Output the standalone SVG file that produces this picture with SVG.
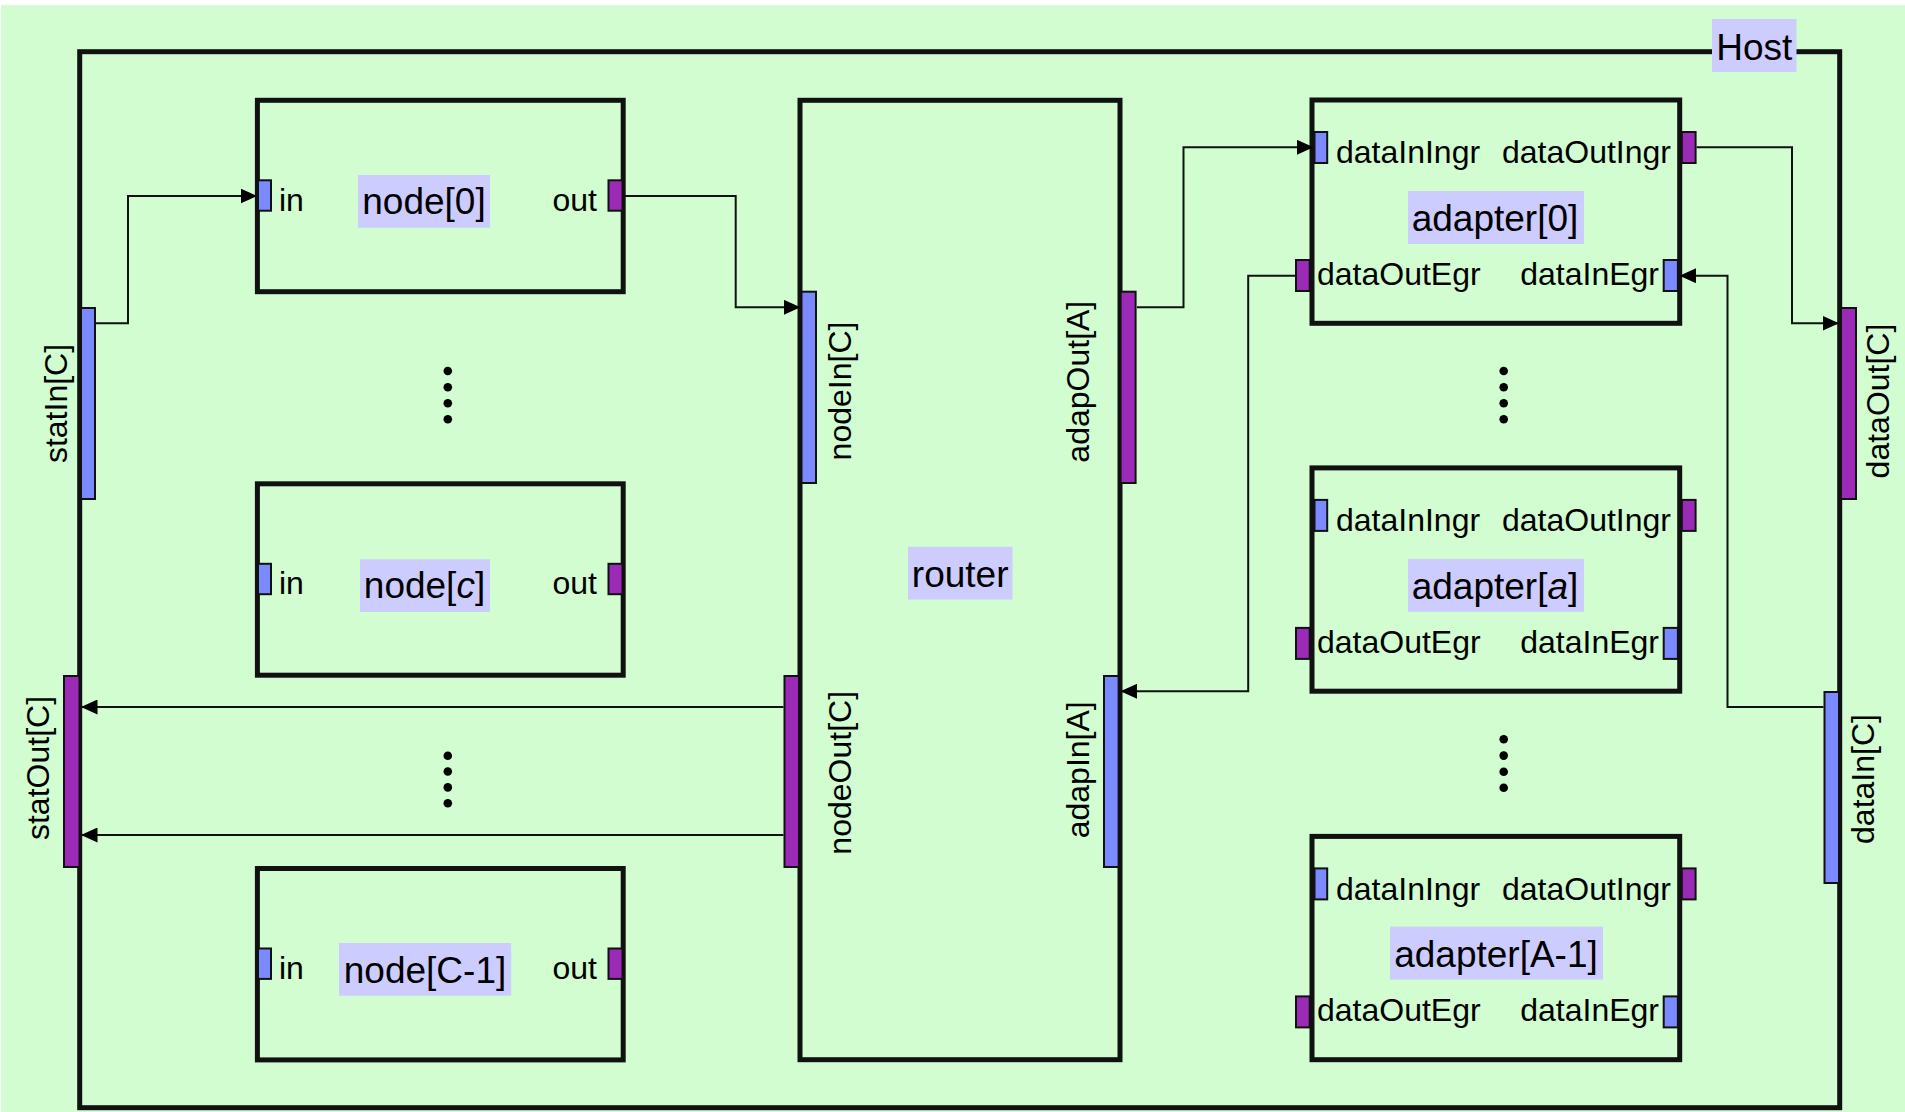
<svg xmlns="http://www.w3.org/2000/svg" width="1905" height="1112" viewBox="0 0 1905 1112">
<defs>
<style>
.frame{fill:none;stroke:#111;stroke-width:5}
.box{fill:none;stroke:#111;stroke-width:5}
.pin{fill:#7b8bff;stroke:#111;stroke-width:2}
.pout{fill:#9b2bb6;stroke:#111;stroke-width:2}
.lbg{fill:#ccccff}
.t{font-family:"Liberation Sans",Arial,sans-serif;fill:#000}
.pl{font-size:32px}
.ml{font-size:37px}
.c{text-anchor:middle}
.e{text-anchor:end}
.wire{fill:none;stroke:#111;stroke-width:2}
.dot{fill:#000}
</style>
<marker id="arr" markerUnits="userSpaceOnUse" markerWidth="17" markerHeight="15" refX="16.5" refY="7.5" orient="auto">
<path d="M0,0 L16.5,7.5 L0,15 z" fill="#000"/>
</marker>
</defs>
<rect x="1" y="5" width="1904" height="1107" fill="#d1fdd1"/>

<g id="host">
<rect class="frame" x="79.7" y="51.7" width="1760" height="1056"/>
<rect class="lbg" x="1712" y="19" width="84.5" height="53"/>
<text class="t ml c" x="1754.3" y="60">Host</text>
<rect class="pin" x="81" y="308" width="14" height="191"/>
<text class="t pl c" transform="translate(66.5,403.5) rotate(-90)">statIn[C]</text>
<rect class="pout" x="64" y="676" width="15.5" height="191"/>
<text class="t pl c" transform="translate(49,768) rotate(-90)">statOut[C]</text>
<rect class="pout" x="1841" y="308" width="15" height="191"/>
<text class="t pl c" transform="translate(1889,401) rotate(-90)">dataOut[C]</text>
<rect class="pin" x="1824.5" y="692" width="14.5" height="191"/>
<text class="t pl c" transform="translate(1873.5,779) rotate(-90)">dataIn[C]</text>
</g>

<g id="node0">
<rect class="box" x="257.4" y="100.3" width="365.8" height="191.4"/>
<rect class="pin" x="258" y="180.3" width="13" height="30.4"/>
<rect class="pout" x="608.5" y="180.3" width="14" height="30.4"/>
<text class="t pl" x="279" y="210.8">in</text>
<text class="t pl e" x="597" y="210.8">out</text>
<rect class="lbg" x="358" y="175" width="132" height="52.7"/>
<text class="t ml c" x="424" y="214.3">node[0]</text>
</g>

<g id="nodec">
<rect class="box" x="257.4" y="483.8" width="365.8" height="191.4"/>
<rect class="pin" x="258" y="563.8" width="13" height="30.4"/>
<rect class="pout" x="608.5" y="563.8" width="14" height="30.4"/>
<text class="t pl" x="279" y="594.3">in</text>
<text class="t pl e" x="597" y="594.3">out</text>
<rect class="lbg" x="360" y="559.3" width="130" height="52.7"/>
<text class="t ml c" x="424.5" y="597.8">node[<tspan font-style="italic">c</tspan>]</text>
</g>

<g id="nodeC1">
<rect class="box" x="257.4" y="868.5" width="365.8" height="191.4"/>
<rect class="pin" x="258" y="948.5" width="13" height="30.4"/>
<rect class="pout" x="608.5" y="948.5" width="14" height="30.4"/>
<text class="t pl" x="279" y="979">in</text>
<text class="t pl e" x="597" y="979">out</text>
<rect class="lbg" x="339" y="943" width="172.2" height="52.7"/>
<text class="t ml c" x="425" y="982.5">node[C-1]</text>
</g>

<g id="dots">
<circle class="dot" cx="447.8" cy="371" r="4.3"/>
<circle class="dot" cx="447.8" cy="387.2" r="4.3"/>
<circle class="dot" cx="447.8" cy="403.3" r="4.3"/>
<circle class="dot" cx="447.8" cy="419.3" r="4.3"/>
<circle class="dot" cx="447.8" cy="755.7" r="4.3"/>
<circle class="dot" cx="447.8" cy="771.5" r="4.3"/>
<circle class="dot" cx="447.8" cy="787.4" r="4.3"/>
<circle class="dot" cx="447.8" cy="803.3" r="4.3"/>
<circle class="dot" cx="1503.7" cy="371" r="4.3"/>
<circle class="dot" cx="1503.7" cy="387.2" r="4.3"/>
<circle class="dot" cx="1503.7" cy="403.3" r="4.3"/>
<circle class="dot" cx="1503.7" cy="419.3" r="4.3"/>
<circle class="dot" cx="1503.7" cy="739.3" r="4.3"/>
<circle class="dot" cx="1503.7" cy="755.6" r="4.3"/>
<circle class="dot" cx="1503.7" cy="771.7" r="4.3"/>
<circle class="dot" cx="1503.7" cy="787.7" r="4.3"/>
</g>

<g id="router">
<rect class="box" x="800" y="100.3" width="320" height="959.4"/>
<rect class="pin" x="801.5" y="291.7" width="14.5" height="191.3"/>
<text class="t pl c" transform="translate(851,391) rotate(-90)">nodeIn[C]</text>
<rect class="pout" x="784.5" y="676" width="14.5" height="191"/>
<text class="t pl c" transform="translate(851,772.8) rotate(-90)">nodeOut[C]</text>
<rect class="pout" x="1120.6" y="291.7" width="15" height="191.3"/>
<text class="t pl c" transform="translate(1088.5,381.7) rotate(-90)">adapOut[A]</text>
<rect class="pin" x="1104" y="676" width="14.6" height="191"/>
<text class="t pl c" transform="translate(1089,769.8) rotate(-90)">adapIn[A]</text>
<rect class="lbg" x="908" y="546.8" width="104.5" height="52.7"/>
<text class="t ml c" x="960.2" y="586.6">router</text>
</g>

<g id="adapter0">
<rect class="box" x="1312" y="100" width="367.7" height="223.3"/>
<rect class="pin" x="1314.5" y="132" width="12.7" height="31"/>
<rect class="pout" x="1681.8" y="132" width="13.8" height="31"/>
<rect class="pout" x="1296" y="260" width="13.7" height="31"/>
<rect class="pin" x="1663.7" y="260" width="14.2" height="31"/>
<text class="t pl" x="1336" y="163.3">dataInIngr</text>
<text class="t pl e" x="1671" y="163.3">dataOutIngr</text>
<rect class="lbg" x="1408" y="191" width="176" height="53"/>
<text class="t ml c" x="1495" y="231">adapter[0]</text>
<text class="t pl" x="1317" y="285">dataOutEgr</text>
<text class="t pl e" x="1659" y="285">dataInEgr</text>
</g>

<g id="adaptera">
<rect class="box" x="1312" y="467.9" width="367.7" height="223.3"/>
<rect class="pin" x="1314.5" y="499.9" width="12.7" height="31"/>
<rect class="pout" x="1681.8" y="499.9" width="13.8" height="31"/>
<rect class="pout" x="1296" y="627.9" width="13.7" height="31"/>
<rect class="pin" x="1663.7" y="627.9" width="14.2" height="31"/>
<text class="t pl" x="1336" y="531.2">dataInIngr</text>
<text class="t pl e" x="1671" y="531.2">dataOutIngr</text>
<rect class="lbg" x="1408" y="558.9" width="176" height="53"/>
<text class="t ml c" x="1495" y="598.9">adapter[<tspan font-style="italic">a</tspan>]</text>
<text class="t pl" x="1317" y="652.9">dataOutEgr</text>
<text class="t pl e" x="1659" y="652.9">dataInEgr</text>
</g>

<g id="adapterA1">
<rect class="box" x="1312" y="836.4" width="367.7" height="223.3"/>
<rect class="pin" x="1314.5" y="868.4" width="12.7" height="31"/>
<rect class="pout" x="1681.8" y="868.4" width="13.8" height="31"/>
<rect class="pout" x="1296" y="996.4" width="13.7" height="31"/>
<rect class="pin" x="1663.7" y="996.4" width="14.2" height="31"/>
<text class="t pl" x="1336" y="899.7">dataInIngr</text>
<text class="t pl e" x="1671" y="899.7">dataOutIngr</text>
<rect class="lbg" x="1390" y="926.6" width="213" height="53"/>
<text class="t ml c" x="1496" y="966.6">adapter[A-1]</text>
<text class="t pl" x="1317" y="1021.4">dataOutEgr</text>
<text class="t pl e" x="1659" y="1021.4">dataInEgr</text>
</g>

<g id="connectors">
<path class="wire" d="M96,323.3 H128 V196 H257" marker-end="url(#arr)"/>
<path class="wire" d="M624,196 H735.7 V307.3 H800.4" marker-end="url(#arr)"/>
<path class="wire" d="M1137,307.3 H1183.5 V147.3 H1313.5" marker-end="url(#arr)"/>
<path class="wire" d="M1696.6,147.3 H1792 V323.3 H1839" marker-end="url(#arr)"/>
<path class="wire" d="M1823.5,707 H1727.5 V275.7 H1679.5" marker-end="url(#arr)"/>
<path class="wire" d="M1295,275.7 H1248.2 V691.3 H1120.5" marker-end="url(#arr)"/>
<path class="wire" d="M783.5,707 H81" marker-end="url(#arr)"/>
<path class="wire" d="M783.5,835 H81" marker-end="url(#arr)"/>
</g>
</svg>
